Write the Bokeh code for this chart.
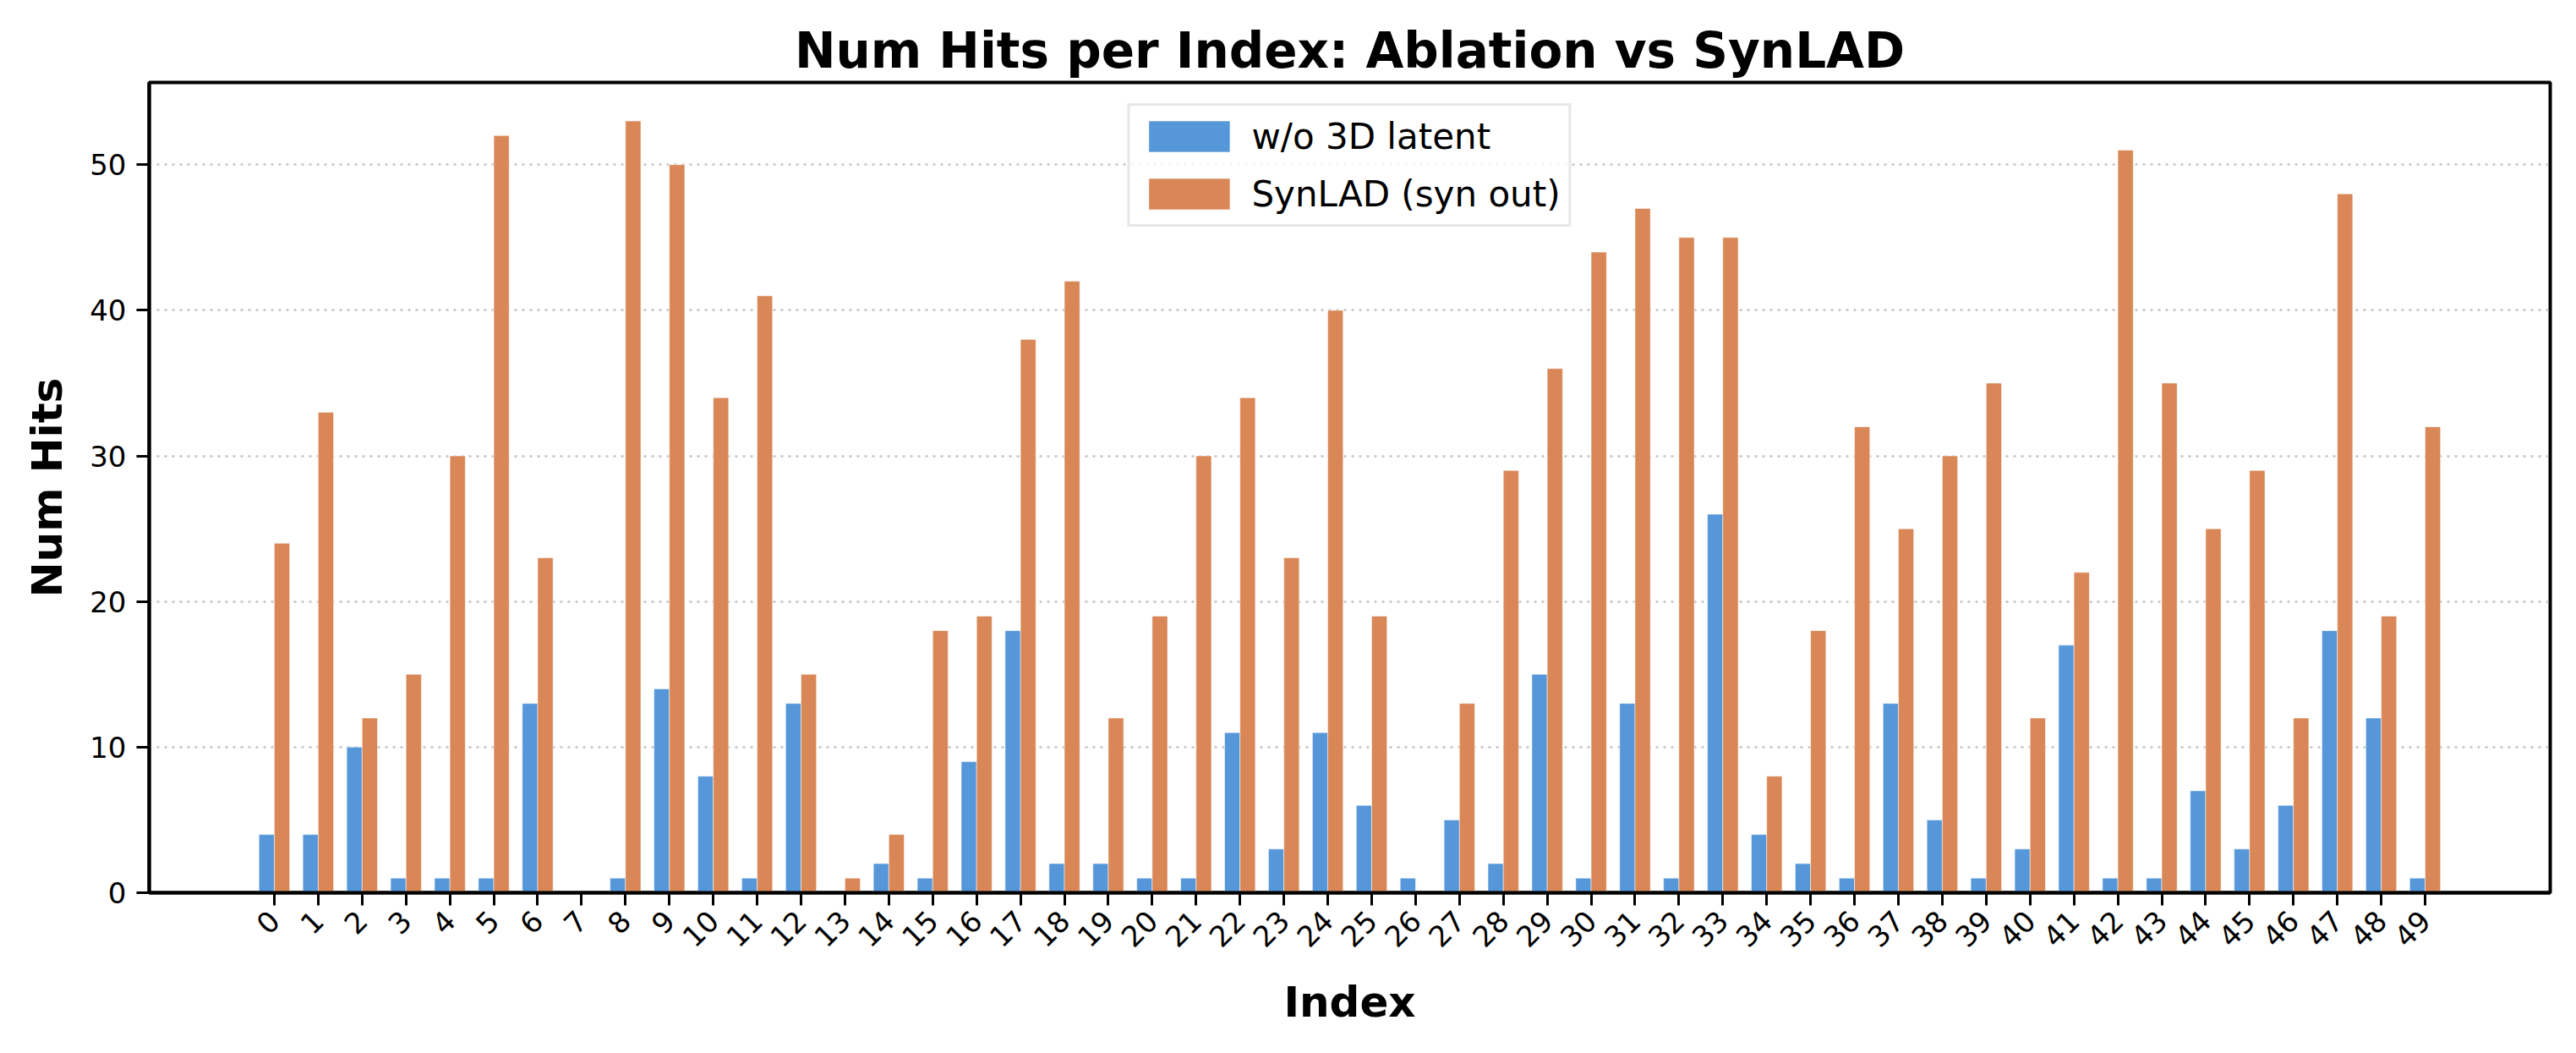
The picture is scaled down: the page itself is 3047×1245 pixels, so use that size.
import math
from bokeh.plotting import figure
from bokeh.models import ColumnDataSource, Range1d, FixedTicker, Legend, LegendItem
from bokeh.transform import dodge
from bokeh.embed import file_html
from bokeh.resources import INLINE

# ---- data ----
index = list(range(50))
wo_3d_latent = [4, 4, 10, 1, 1, 1, 13, 0, 1, 14,
                8, 1, 13, 0, 2, 1, 9, 18, 2, 2,
                1, 1, 11, 3, 11, 6, 1, 5, 2, 15,
                1, 13, 1, 26, 4, 2, 1, 13, 5, 1,
                3, 17, 1, 1, 7, 3, 6, 18, 12, 1]
synlad_syn_out = [24, 33, 12, 15, 30, 52, 23, 0, 53, 50,
                  34, 41, 15, 1, 4, 18, 19, 38, 42, 12,
                  19, 30, 34, 23, 40, 19, 0, 13, 29, 36,
                  44, 47, 45, 45, 8, 18, 32, 25, 30, 35,
                  12, 22, 51, 35, 25, 29, 12, 48, 19, 32]
series_names = ["w/o 3D latent", "SynLAD (syn out)"]
y_ticks = [0, 10, 20, 30, 40, 50]
title_text = "Num Hits per Index: Ablation vs SynLAD"
x_label = "Index"
y_label = "Num Hits"

BLUE = "#5697da"
ORANGE = "#d98756"
FONT = "DejaVu Sans"

src = ColumnDataSource(dict(x=index, a=wo_3d_latent, b=synlad_syn_out))

p = figure(width=3047, height=1245, output_backend="svg", toolbar_location=None,
           x_range=Range1d(-2.85, 51.85), y_range=Range1d(0, 55.65),
           min_border_left=176, min_border_right=31, min_border_top=97,
           min_border_bottom=190, title=title_text)
p.background_fill_color = "white"
p.border_fill_color = "white"

bw = 0.35
r1 = p.vbar(x=dodge("x", -bw / 2, range=p.x_range), top="a", width=bw, bottom=0,
            source=src, fill_color=BLUE, line_color="white", line_width=1, line_alpha=0.5)
r2 = p.vbar(x=dodge("x", bw / 2, range=p.x_range), top="b", width=bw, bottom=0,
            source=src, fill_color=ORANGE, line_color="white", line_width=1, line_alpha=0.5)

# title
p.title.text_font = FONT
p.title.text_font_size = "58px"
p.title.text_font_style = "bold"
p.title.align = "center"
p.title.text_color = "black"
p.title.standoff = 8

# frame / spines
p.outline_line_color = "black"
p.outline_line_width = 4
p.outline_line_alpha = 1

# grid
p.xgrid.visible = False
p.ygrid.ticker = FixedTicker(ticks=y_ticks)
p.ygrid.grid_line_color = "#c4c4c4"
p.ygrid.grid_line_width = 2.5
p.ygrid.grid_line_dash = "3 6"

# axes
for ax in (p.xaxis[0], p.yaxis[0]):
    ax.axis_line_color = "black"
    ax.axis_line_width = 4
    ax.major_tick_line_color = "black"
    ax.major_tick_line_width = 3
    ax.major_tick_out = 15
    ax.major_tick_in = 0
    ax.minor_tick_line_color = None
    ax.major_label_text_font = FONT
    ax.major_label_text_font_size = "34px"
    ax.major_label_text_color = "black"
    ax.axis_label_text_font = FONT
    ax.axis_label_text_font_size = "50px"
    ax.axis_label_text_font_style = "bold"
    ax.axis_label_text_color = "black"

p.xaxis.ticker = FixedTicker(ticks=index)
p.xaxis.major_label_orientation = math.pi / 4
p.xaxis.major_label_standoff = 12
p.xaxis.axis_label = x_label
p.xaxis.axis_label_standoff = 22

p.yaxis.ticker = FixedTicker(ticks=y_ticks)
p.yaxis.major_label_standoff = 12
p.yaxis.axis_label = y_label
p.yaxis.axis_label_standoff = 18

# legend
legend = Legend(items=[LegendItem(label=series_names[0], renderers=[r1]),
                       LegendItem(label=series_names[1], renderers=[r2])],
                location="top", orientation="vertical")
legend.margin = 25
legend.padding = 10
legend.spacing = 16
legend.glyph_width = 120
legend.glyph_height = 46
legend.label_height = 52
legend.label_standoff = 14
legend.label_text_font = FONT
legend.label_text_font_size = "42px"
legend.label_text_color = "black"
legend.border_line_color = "#d0d0d0"
legend.border_line_width = 3
legend.background_fill_color = "white"
legend.background_fill_alpha = 0.8
p.add_layout(legend)

open("out.html", "w").write(file_html(p, INLINE))
